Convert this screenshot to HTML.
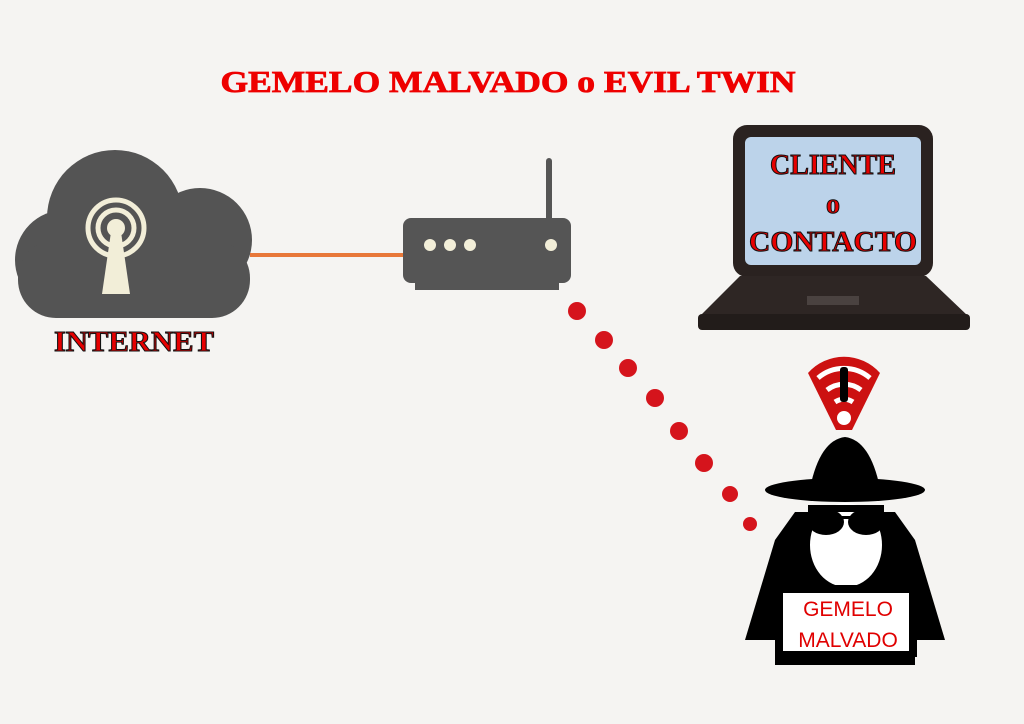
<!DOCTYPE html>
<html><head><meta charset="utf-8"><style>
html,body{margin:0;padding:0;width:1024px;height:724px;overflow:hidden;background:#f5f4f2}
svg{display:block}
.t{font-family:"Liberation Serif",serif;font-weight:bold;fill:#e60000;stroke:#111;stroke-width:1}
</style></head><body>
<svg width="1024" height="724" viewBox="0 0 1024 724">
<rect width="1024" height="724" fill="#f5f4f2"/>
<text x="508" y="92" text-anchor="middle" font-family="Liberation Serif,serif" font-weight="bold" font-size="31" fill="#ee0000" stroke="#ee0000" stroke-width="0.8" textLength="575" lengthAdjust="spacingAndGlyphs">GEMELO MALVADO o EVIL TWIN</text>
<!-- cloud -->
<g fill="#545454">
<circle cx="115" cy="218" r="68"/>
<circle cx="200" cy="240" r="52"/>
<circle cx="65" cy="260" r="50"/>
<rect x="18" y="240" width="232" height="78" rx="38"/>
</g>
<g fill="none" stroke="#f2eed8" stroke-width="5">
<circle cx="116" cy="228" r="18"/>
<circle cx="116" cy="228" r="28"/>
</g>
<circle cx="116" cy="228" r="9" fill="#f2eed8"/>
<polygon points="111,232 121,232 130,294 102,294" fill="#f2eed8"/>
<text x="134" y="351" text-anchor="middle" class="t" font-size="28" textLength="160" lengthAdjust="spacingAndGlyphs">INTERNET</text>
<!-- line -->
<line x1="250" y1="255" x2="405" y2="255" stroke="#e8783a" stroke-width="4"/>
<!-- router -->
<rect x="546" y="158" width="6" height="64" rx="3" fill="#555"/>
<rect x="403" y="218" width="168" height="65" rx="8" fill="#555"/>
<rect x="415" y="280" width="144" height="10" fill="#555"/>
<g fill="#f2eed8"><circle cx="430" cy="245" r="6"/><circle cx="450" cy="245" r="6"/><circle cx="470" cy="245" r="6"/><circle cx="551" cy="245" r="6"/></g>
<!-- laptop -->
<rect x="733" y="125" width="200" height="152" rx="14" fill="#2a2220"/>
<rect x="745" y="137" width="176" height="128" rx="6" fill="#bcd3ea"/>
<text x="833" y="174" text-anchor="middle" class="t" font-size="28">CLIENTE</text>
<text x="833" y="213" text-anchor="middle" class="t" font-size="28">o</text>
<text x="833" y="251" text-anchor="middle" class="t" font-size="28" textLength="168" lengthAdjust="spacingAndGlyphs">CONTACTO</text>
<polygon points="740,276 926,276 968,316 700,316" fill="#2e2624"/>
<rect x="698" y="314" width="272" height="16" rx="4" fill="#221c1a"/>
<rect x="807" y="296" width="52" height="9" fill="#4a4240"/>
<!-- dots -->
<g fill="#d5141c">
<circle cx="577" cy="311" r="9"/><circle cx="604" cy="340" r="9"/><circle cx="628" cy="368" r="9"/><circle cx="655" cy="398" r="9"/><circle cx="679" cy="431" r="9"/><circle cx="704" cy="463" r="9"/><circle cx="730" cy="494" r="8"/><circle cx="750" cy="524" r="7"/>
</g>
<!-- wifi alert -->
<path d="M808,373 A48,48 0 0 1 880,373 L852,430 L836,430 Z" fill="#cc1111"/>
<g fill="none" stroke="#fff" stroke-width="5">
<path d="M818,378 A40,40 0 0 1 870,378"/>
<path d="M827,390 A28,28 0 0 1 861,390"/>
<path d="M835,402 A16,16 0 0 1 853,402"/>
</g>
<circle cx="844" cy="418" r="7" fill="#fff"/>
<rect x="840" y="367" width="8" height="35" rx="3" fill="#000"/>
<!-- spy -->
<path d="M810,488 Q820,440 845,437 Q870,440 880,488 Z" fill="#000"/>
<ellipse cx="845" cy="490" rx="80" ry="12" fill="#000"/>
<path d="M775,540 L795,512 L895,512 L915,540 L945,640 L745,640 Z" fill="#000"/>
<ellipse cx="846" cy="545" rx="36" ry="42" fill="#fff"/>
<path d="M808,505 L884,505 L884,512 L808,512 Z" fill="#000"/>
<ellipse cx="826" cy="522" rx="18" ry="13" fill="#000"/>
<ellipse cx="866" cy="522" rx="18" ry="13" fill="#000"/>
<rect x="840" y="516" width="12" height="3" fill="#000"/>
<rect x="775" y="585" width="142" height="72" fill="#000"/>
<rect x="783" y="593" width="126" height="58" fill="#fff"/>
<rect x="775" y="657" width="140" height="8" fill="#000"/>
<text x="848" y="616" text-anchor="middle" font-family="Liberation Sans,sans-serif" font-size="21" fill="#e00000">GEMELO</text>
<text x="848" y="647" text-anchor="middle" font-family="Liberation Sans,sans-serif" font-size="21" fill="#e00000">MALVADO</text>
</svg>
</body></html>
